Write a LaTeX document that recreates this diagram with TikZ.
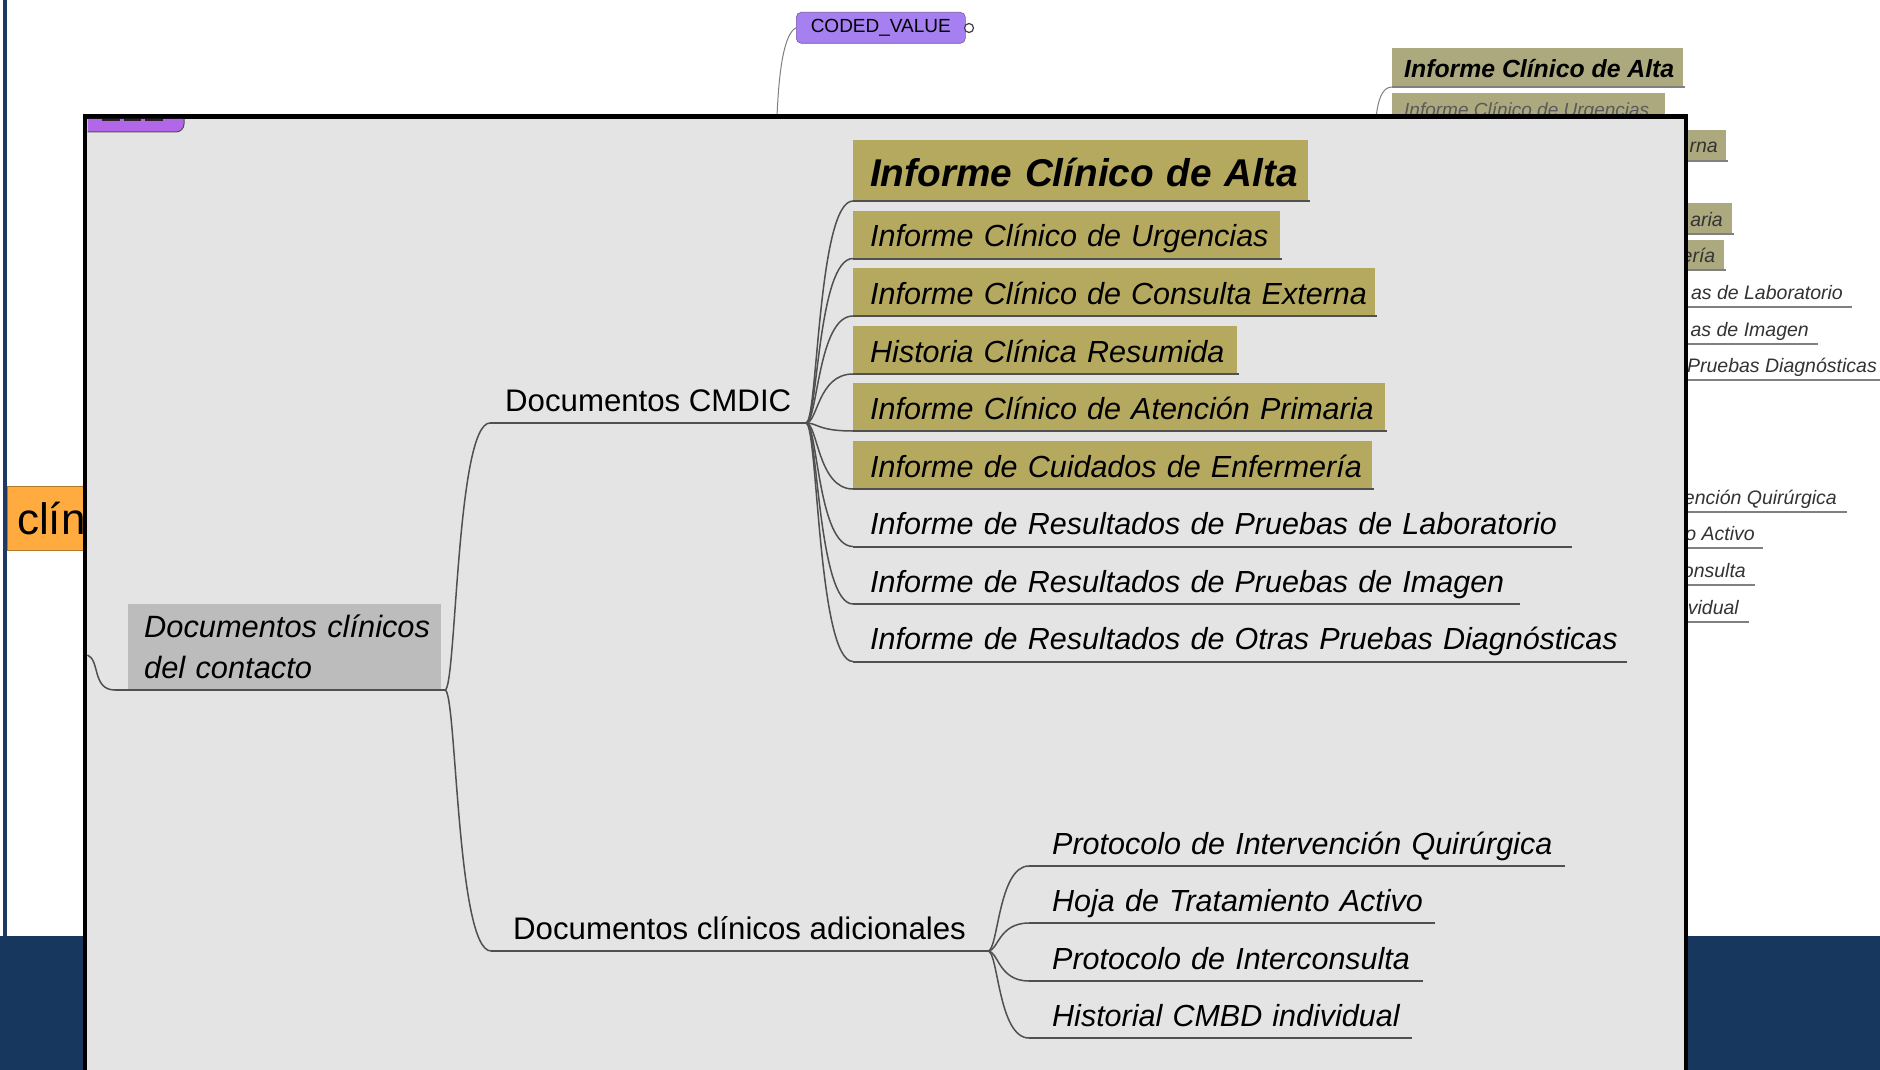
\documentclass[tikz,border=0pt]{standalone}
\usepackage{fontspec}
\setmainfont{Liberation Sans}
\usetikzlibrary{calc}
\definecolor{navy}{HTML}{17375E}
\definecolor{edgeblue}{HTML}{1F3864}
\definecolor{insetgray}{HTML}{E4E4E4}
\definecolor{olivebox}{HTML}{B5A95F}
\definecolor{backbox}{HTML}{ACA97F}
\definecolor{graybox}{HTML}{BCBCBC}
\definecolor{orangebox}{HTML}{FFAB40}
\definecolor{purplea}{HTML}{A680F0}
\definecolor{purpleb}{HTML}{B266E8}
\definecolor{linegray}{HTML}{505050}
\newcommand{\fs}[1]{\fontsize{#1pt}{#1pt}\selectfont}
\tikzset{
  x=1pt,y=-1pt,
  leafbox/.style={anchor=south west,inner xsep=17pt,inner ysep=0pt,minimum height=47.5pt,align=left,text height=29pt,text depth=5pt,font=\fs{30.5}\itshape},
  goldbox/.style={leafbox,fill=olivebox},
  plainleaf/.style={leafbox},
  branchnode/.style={anchor=south west,inner ysep=0pt,minimum height=47pt,text height=30pt,text depth=5pt,font=\fs{31.2}},
  rule/.style={draw=linegray,line width=2pt},
  conn/.style={draw=linegray,line width=1.5pt},
  backrule/.style={draw=gray,line width=1.2pt},
  backconn/.style={draw=gray,line width=1pt},
  backbox/.style={anchor=south west,fill=backbox,inner sep=0pt},
  backtext/.style={anchor=base east,inner sep=0pt,text=black!80,font=\fs{19.5}\itshape},
}
% S-shaped mind-map connector: from named point #1 to named point #2
\newcommand{\mapconn}[3][conn]{%
  \draw[#1] let \p1=(#2), \p2=(#3), \n1={\x1+0.25*(\x2-\x1)} in
    (\p1) .. controls (\n1,\y1) and (\n1,\y2) .. (\p2);}
\begin{document}
\begin{tikzpicture}
\useasboundingbox (0,0) rectangle (1880,1070);
\fill[white] (0,0) rectangle (1880,1070);
% slide frame
\fill[edgeblue] (3,0) rectangle (7,936);
\fill[navy] (0,936) rectangle (1880,1070);
% background mind map
\node[anchor=north west,fill=orangebox,draw=orangebox!70!black,line width=.5pt,minimum width=90pt,minimum height=64pt,inner sep=0pt] (orange) at (7,486) {};
\node[anchor=base west,inner sep=0pt,font=\fs{44}] (clin) at (17,534) {clín};
\node[anchor=north west,fill=purplea,draw=purplea!70!black,line width=.6pt,rounded corners=5pt,minimum width=169pt,minimum height=31pt,inner sep=0pt,font=\fs{19}] (coded) at (796,12) {CODED\_VALUE};
\node[circle,draw=black!75,fill=white,line width=1.2pt,minimum size=9pt,inner sep=0pt] (codedknob) at (969,28) {};
\coordinate (codedfoot) at (777,116);
\draw[backconn] (coded.west) .. controls (784,34) and (779,70) .. (codedfoot);
\node[backbox,minimum width=291pt,minimum height=39pt] (balta) at (1392,87) {};
\node[anchor=west,inner sep=0pt,font=\fs{24.8}\bfseries\itshape] (baltat) at (1404,69) {Informe Clínico de Alta};
\draw[backrule] (balta.south west) -- (1685,87);
\coordinate (bfoot) at (1376,118);
\draw[backconn] (bfoot) .. controls (1378,100) and (1382,87) .. (balta.south west);
\node[backbox,minimum width=273pt,minimum height=30pt] (burg) at (1392,123) {};
\node[anchor=base west,inner sep=0pt,text=black!65,font=\fs{19}\itshape] (burgt) at (1404,116.5) {Informe Clínico de Urgencias};
\node[backbox,minimum width=90pt,minimum height=31pt] (bext) at (1636,161) {};
\draw[backrule] (bext.south west) -- (1728,161);
\node[backtext] (bextt) at (1718,153) {rna};
\node[backbox,minimum width=96pt,minimum height=31pt] (bpri) at (1636,234) {};
\draw[backrule] (bpri.south west) -- (1734,234);
\node[backtext] (bprit) at (1723,226) {aria};
\node[backbox,minimum width=88pt,minimum height=30pt] (benf) at (1636,270) {};
\draw[backrule] (benf.south west) -- (1726,270);
\node[backtext] (benft) at (1715.5,262) {ería};
\foreach \nm/\tx/\ex/\ly/\rx in {
  blab/as de Laboratorio/1843/307/1852,
  bima/as de Imagen/1809/344/1818,
  bdia/Pruebas Diagnósticas/1877/380/1880,
  bqui/ención Quirúrgica/1837/512/1847,
  bact/o Activo/1755/548/1763,
  bcon/onsulta/1746/585/1755,
  bind/vidual/1739/622/1749}{
  \node[backtext] (\nm) at (\ex,\ly-8) {\tx};
  \coordinate (\nm r) at (\rx,\ly);
  \coordinate (\nm l) at (1660,\ly);
  \draw[backrule] (\nm l) -- (\nm r);
}
% inset panel
\fill[insetgray] (85,116) rectangle (1686,1075);
\draw[black,line width=4.5pt] (85,1075) -- (85,116.5) -- (1686,116.5) -- (1686,1075);
\fill[purpleb] (87.5,119) -- (184,119) [rounded corners=8pt] -- (184,132) [sharp corners] -- (87.5,132) -- cycle;
\draw[linegray,line width=1pt] (87.5,132) [rounded corners=8pt] -- (184,132) [sharp corners] -- (184,119);
\fill[black!85] (102,119) rectangle (120,121.5);
\fill[black!85] (124,119) rectangle (141,121.5);
\fill[black!85] (145,119) rectangle (163,121.5);
% inset mind map
\coordinate (instart) at (87.5,655);
\coordinate (cJ) at (806,423);
\coordinate (aJ) at (988,951);
\coordinate (rootJ) at (445,690);
\node[anchor=south west,fill=graybox,minimum height=87pt,text width=313pt,inner sep=0pt,align=left,font=\fontsize{30.8}{41}\selectfont\itshape] (root) at (128,691) {\hspace*{16pt}Documentos clínicos\\\hspace*{16pt}del contacto};
\coordinate (rootl) at (115,690);
\draw[conn] (instart) .. controls (100,660) and (92,690) .. (rootl);
\draw[rule] (rootl) -- (rootJ);
% CMDIC branch
\node[branchnode,inner xsep=15pt] (cmdic) at (490,423) {Documentos CMDIC};
\draw[rule] (cmdic.south west) -- (cJ);
\mapconn{rootJ}{cmdic.south west}
\node[branchnode,inner xsep=22pt] (adic) at (491,951) {Documentos clínicos adicionales};
\draw[rule] (adic.south west) -- (aJ);
\mapconn{rootJ}{adic.south west}
% gold leaves
\node[goldbox,minimum height=61pt,font=\fs{38.7}\bfseries\itshape,minimum width=455pt,text width=421pt,text height=38pt,text depth=5pt] (alta) at (853,201) {\mbox{Informe Clínico de Alta}};
\draw[rule] (alta.south west) -- ++(457,0);
\mapconn{cJ}{alta.south west}
\foreach \nm/\tx/\ly/\bw in {
  urg/Informe Clínico de Urgencias/258.5/427,
  ext/Informe Clínico de Consulta Externa/316/522,
  his/Historia Clínica Resumida/374/384,
  pri/Informe Clínico de Atención Primaria/431/532,
  enf/Informe de Cuidados de Enfermería/489/519}{
  \node[goldbox,minimum width=\bw pt,text width=\bw pt-34pt] (\nm) at (853,\ly) {\mbox{\tx}};
  \draw[rule] (\nm.south west) -- ++(\bw+2,0);
  \mapconn{cJ}{\nm.south west}
}
% plain leaves
\foreach \nm/\tx/\ly/\bw in {
  lab/Informe de Resultados de Pruebas de Laboratorio/546.5/719,
  ima/Informe de Resultados de Pruebas de Imagen/604/667,
  dia/Informe de Resultados de Otras Pruebas Diagnósticas/661.5/774}{
  \node[plainleaf,minimum width=\bw pt,text width=\bw pt-34pt] (\nm) at (853,\ly) {\mbox{\tx}};
  \draw[rule] (\nm.south west) -- (\nm.south east);
  \mapconn{cJ}{\nm.south west}
}
\foreach \nm/\tx/\ly/\bw in {
  qui/Protocolo de Intervención Quirúrgica/866/536,
  hoj/Hoja de Tratamiento Activo/923/406,
  int/Protocolo de Interconsulta/981/394,
  hcm/Historial CMBD individual/1038/383}{
  \node[plainleaf,inner xsep=23pt,minimum width=\bw pt,text width=\bw pt-46pt] (\nm) at (1029,\ly) {\mbox{\tx}};
  \draw[rule] (\nm.south west) -- (\nm.south east);
  \mapconn{aJ}{\nm.south west}
}
\end{tikzpicture}
\end{document}
